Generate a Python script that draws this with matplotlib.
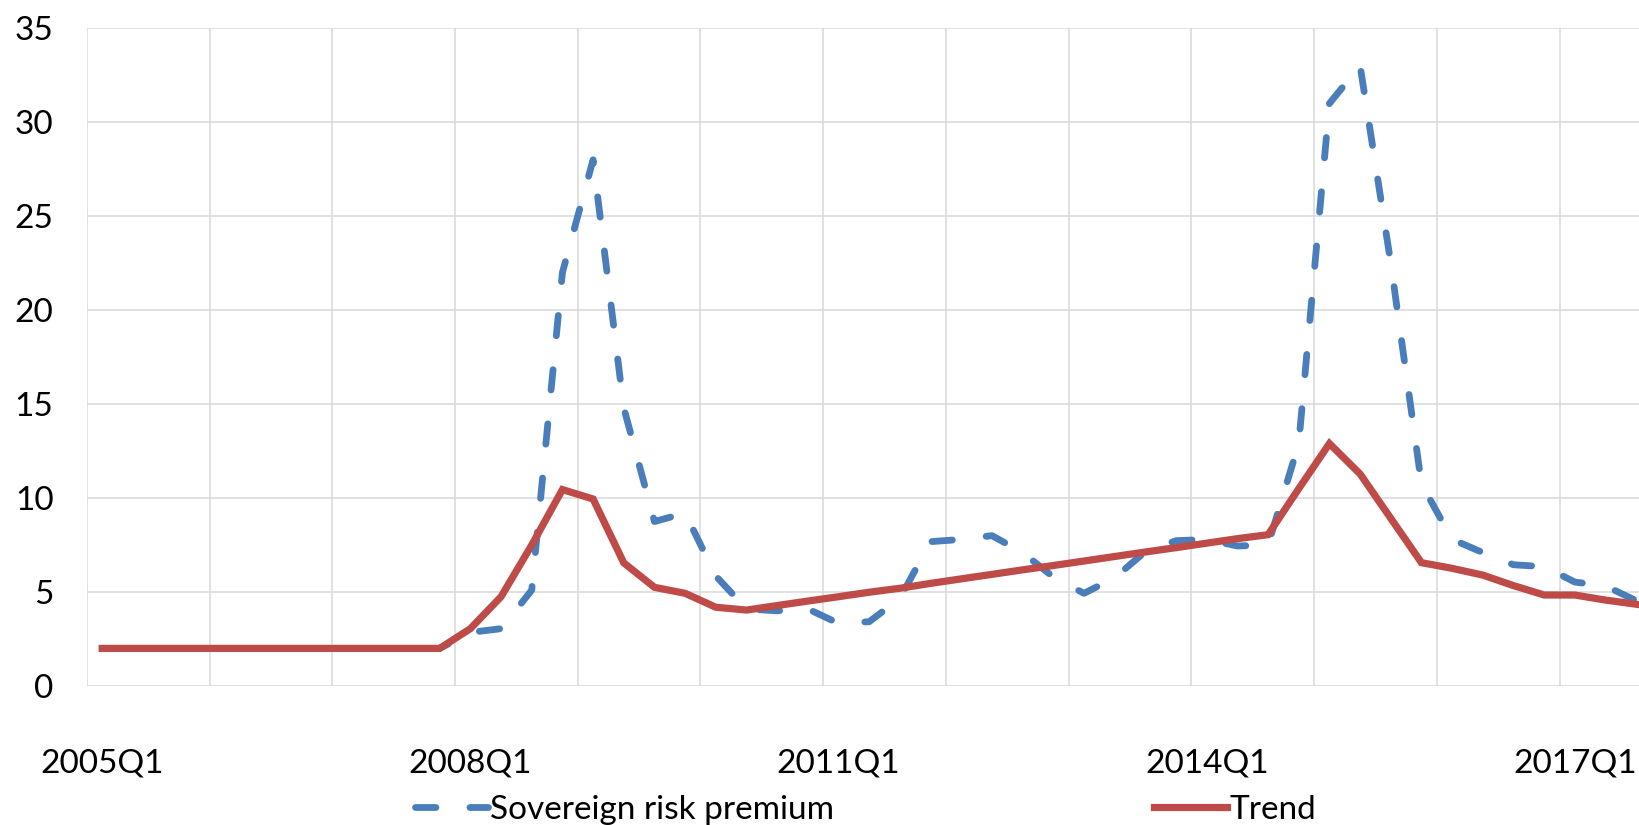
"""Sovereign risk premium against its trend, quarterly 2005Q1-2017Q3."""
import matplotlib

matplotlib.use("Agg")

import matplotlib.pyplot as plt
from matplotlib.lines import Line2D

plt.rcParams["font.family"] = ["Lato", "DejaVu Sans"]

YEARS = list(range(2005, 2018))
QUARTERS = [f"{y}Q{q}" for y in YEARS for q in range(1, 5)][:51]

SOVEREIGN_RISK_PREMIUM = [
    2.0, 2.0, 2.0, 2.0, 2.0, 2.0, 2.0, 2.0, 2.0, 2.0, 2.0, 2.0,
    2.85, 3.05, 5.1, 22.0, 28.0, 14.8, 8.75, 9.2, 5.85, 4.1,
    4.0, 4.1, 3.33, 3.42, 4.66, 7.68, 7.8, 8.0, 7.1, 5.8,
    4.93, 5.76, 7.15, 7.73, 7.8, 7.45, 7.5, 12.9, 31.0, 33.0,
    22.5, 10.75, 7.8, 7.1, 6.45, 6.35, 5.53, 5.32, 4.54,
]
TREND = [
    2.0, 2.0, 2.0, 2.0, 2.0, 2.0, 2.0, 2.0, 2.0, 2.0, 2.0, 2.0,
    3.05, 4.75, 7.5, 10.45, 9.95, 6.55, 5.25, 4.93, 4.19, 4.04,
    4.28, 4.52, 4.75, 4.99, 5.2, 5.46, 5.70, 5.94, 6.18, 6.41,
    6.65, 6.89, 7.13, 7.36, 7.6, 7.84, 8.05, 10.5, 12.9, 11.28,
    8.92, 6.56, 6.26, 5.9, 5.34, 4.84, 4.84, 4.57, 4.35,
]
LABEL_EVERY = 12
GRID_EVERY = 4

BLUE = "#4a7ebb"
RED = "#be4b48"
GRID = "#d9d9d9"
BLUE_DASH = (3.0, 5.0)

fig = plt.figure(figsize=(16.39, 8.25), dpi=100)
ax = fig.add_axes([0.053, 0.1685, 0.947, 0.7973])

x = list(range(len(QUARTERS)))
ax.plot(x, SOVEREIGN_RISK_PREMIUM, color=BLUE, lw=4.9,
        dashes=BLUE_DASH, dash_capstyle="round", solid_capstyle="round",
        label="Sovereign risk premium", zorder=3)
ax.plot(x, TREND, color=RED, lw=5.2, solid_joinstyle="miter",
        label="Trend", zorder=4)

ax.set_ylim(0, 35)
ax.set_yticks(range(0, 36, 5))
ax.set_xlim(-0.5, 50.09)

# labels sit on category centres, gridlines on category boundaries
ax.set_xticks(x[::LABEL_EVERY])
ax.set_xticklabels(QUARTERS[::LABEL_EVERY])
for b in range(0, len(QUARTERS) + 1, GRID_EVERY):
    ax.axvline(b - 0.5, color=GRID, lw=1.1, zorder=1)
for v in range(0, 36, 5):
    ax.axhline(v, color=GRID, lw=1.1, zorder=1)

for s in ax.spines.values():
    s.set_visible(False)
ax.tick_params(axis="both", length=0, labelsize=24, colors="black")
ax.tick_params(axis="x", pad=45)
ax.tick_params(axis="y", pad=24)

handles = [
    Line2D([], [], color=BLUE, lw=4.9, dashes=BLUE_DASH,
           dash_capstyle="round"),
    Line2D([], [], color=RED, lw=5.2),
]
fig.legend(handles, ["Sovereign risk premium", "Trend"], loc="center",
           bbox_to_anchor=(0.528, 0.018), ncol=2, frameon=False,
           fontsize=24, handlelength=2.2, handletextpad=0.05,
           columnspacing=9.6)

fig.savefig("out.png", dpi=100)
